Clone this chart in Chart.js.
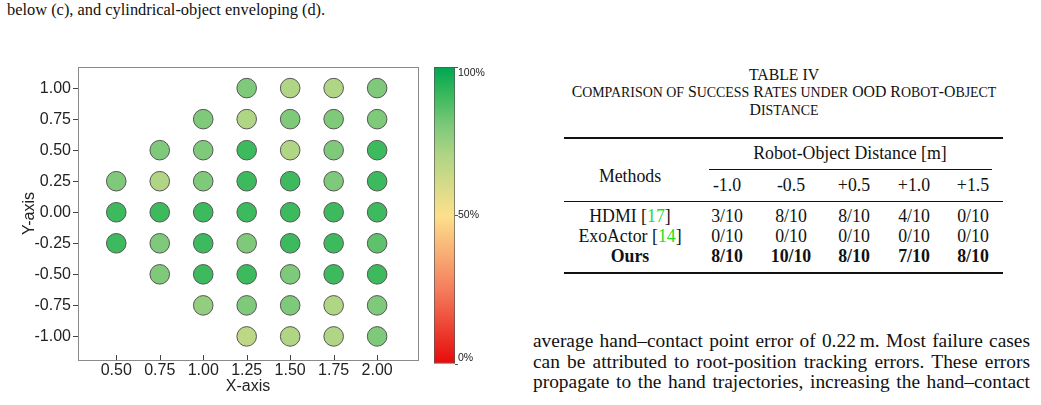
<!DOCTYPE html>
<html>
<head>
<meta charset="utf-8">
<script src="https://cdn.jsdelivr.net/npm/chart.js@4.4.1/dist/chart.umd.min.js"></script>
<style>
html,body{margin:0;padding:0;background:#fff;}
body{width:1041px;height:405px;position:relative;overflow:hidden;font-family:"Liberation Serif","Times New Roman",serif;color:#111;}
canvas{position:absolute;}
.t{position:absolute;white-space:nowrap;line-height:1;}
.c{text-align:center;width:200px;}
.sc{font-size:0.88em;text-transform:uppercase;}
.rule{position:absolute;background:#111;}
.cite{color:#22dd22;}
.para{position:absolute;left:533px;width:497px;font-size:19.4px;line-height:1;text-align:justify;text-align-last:justify;}
b{font-weight:bold;}
</style>
</head>
<body>
<div class="t" style="left:7px;top:1.5px;font-size:16.4px;">below (c), and cylindrical-object enveloping (d).</div>

<canvas id="scatter" width="430" height="405" style="left:0;top:0;"></canvas>
<canvas id="cbar" width="100" height="405" style="left:420px;top:0;"></canvas>

<!-- table -->
<div class="t c" style="left:684px;top:67px;font-size:15.8px;">TABLE IV</div>
<div class="t c" style="left:534px;top:84px;font-size:15.8px;width:500px;">C<span class="sc">omparison of</span> S<span class="sc">uccess</span> R<span class="sc">ates under</span> OOD R<span class="sc">obot</span>-O<span class="sc">bject</span></div>
<div class="t c" style="left:684px;top:102px;font-size:15.8px;">D<span class="sc">istance</span></div>
<div class="rule" style="left:564px;top:137px;width:439px;height:2px;"></div>
<div class="rule" style="left:709px;top:169px;width:283px;height:1px;"></div>
<div class="rule" style="left:564px;top:201px;width:439px;height:1px;"></div>
<div class="rule" style="left:564px;top:272px;width:439px;height:2px;"></div>
<div id="tbl"></div>

<div class="para" style="top:330.5px;">average hand–contact point error of 0.22&#8201;m. Most failure cases</div>
<div class="para" style="top:351.5px;">can be attributed to root-position tracking errors. These errors</div>
<div class="para" style="top:372px;">propagate to the hand trajectories, increasing the hand–contact</div>

<script>
// grid of test positions
const xPositions = [0.50, 0.75, 1.00, 1.25, 1.50, 1.75, 2.00];
const yPositions = [1.00, 0.75, 0.50, 0.25, 0.00, -0.25, -0.50, -0.75, -1.00];
// success rate per row (top to bottom), null = not tested
const rateRow1 = [null, null, null, 0.80, 0.70, 0.70, 0.80];
const rateRow2 = [null, null, 0.80, 0.70, 0.80, 0.80, 0.80];
const rateRow3 = [null, 0.80, 0.80, 0.90, 0.70, 0.80, 0.90];
const rateRow4 = [0.80, 0.70, 0.80, 0.90, 0.90, 0.80, 0.90];
const rateRow5 = [0.90, 0.90, 0.90, 0.90, 0.90, 0.90, 0.90];
const rateRow6 = [0.90, 0.80, 0.90, 0.80, 0.90, 0.90, 0.85];
const rateRow7 = [null, 0.80, 0.90, 0.90, 0.80, 0.90, 0.90];
const rateRow8 = [null, null, 0.76, 0.80, 0.80, 0.70, 0.80];
const rateRow9 = [null, null, null, 0.67, 0.70, 0.70, 0.80];
const rateRows = [rateRow1, rateRow2, rateRow3, rateRow4, rateRow5, rateRow6, rateRow7, rateRow8, rateRow9];

const xTicks = [0.50, 0.75, 1.00, 1.25, 1.50, 1.75, 2.00];
const yTicks = [-1.00, -0.75, -0.50, -0.25, 0.00, 0.25, 0.50, 0.75, 1.00];
const cbarTicks = [0, 50, 100];

// table data
const distHeaders = ['-1.0', '-0.5', '+0.5', '+1.0', '+1.5'];
const hdmiRow = ['3/10', '8/10', '8/10', '4/10', '0/10'];
const exoRow = ['0/10', '0/10', '0/10', '0/10', '0/10'];
const oursRow = ['8/10', '10/10', '8/10', '7/10', '8/10'];

// colour map (red - yellow - green)
const cmapStops = [0, 0.25, 0.5, 0.7, 0.8, 0.9, 1];
const cmapColors = ['#e60a0a', '#f47d5d', '#fde08c', '#b0d585', '#7fc97a', '#3dba5e', '#00a651'];

function hexToRgb(h) {
  return [parseInt(h.substr(1,2),16), parseInt(h.substr(3,2),16), parseInt(h.substr(5,2),16)];
}
function rateColor(v) {
  for (let i = 1; i < cmapStops.length; i++) {
    if (v <= cmapStops[i]) {
      let t = (v - cmapStops[i-1]) / (cmapStops[i] - cmapStops[i-1]);
      let a = hexToRgb(cmapColors[i-1]), b = hexToRgb(cmapColors[i]);
      let c = a.map((x, k) => Math.round(x + (b[k]-x)*t));
      return 'rgb(' + c.join(',') + ')';
    }
  }
  return cmapColors[cmapColors.length-1];
}

let points = [];
rateRows.forEach((row, i) => {
  row.forEach((r, j) => {
    if (r !== null) points.push({x: xPositions[j], y: yPositions[i], rate: r});
  });
});

const sans = '"Liberation Sans", Arial, sans-serif';

// frame round the plot + inward x ticks
const framePlugin = {
  id: 'frame',
  beforeDatasetsDraw(chart) {
    const {ctx, chartArea: a, scales} = chart;
    ctx.save();
    ctx.strokeStyle = '#8a8a8a';
    ctx.lineWidth = 1;
    ctx.strokeRect(a.left + 0.5, a.top + 0.5, a.right - a.left, a.bottom - a.top);
    ctx.strokeStyle = '#444';
    xTicks.forEach(v => {
      let px = Math.round(scales.x.getPixelForValue(v)) + 0.5;
      ctx.beginPath();
      ctx.moveTo(px, a.bottom);
      ctx.lineTo(px, a.bottom - 5);
      ctx.stroke();
    });
    ctx.restore();
  }
};

new Chart(document.getElementById('scatter'), {
  type: 'scatter',
  data: {
    datasets: [{
      data: points,
      pointRadius: 9.8,
      pointHoverRadius: 9.8,
      pointBorderWidth: 1,
      pointBorderColor: '#555',
      pointBackgroundColor: ctx => rateColor(ctx.raw ? ctx.raw.rate : 1)
    }]
  },
  options: {
    responsive: false,
    devicePixelRatio: 1,
    animation: false,
    layout: {padding: {left: 0, right: 12, top: 67, bottom: 0}},
    plugins: {legend: {display: false}, tooltip: {enabled: false}},
    scales: {
      x: {
        type: 'linear',
        min: 0.28, max: 2.235,
        afterBuildTicks: s => { s.ticks = xTicks.map(v => ({value: v})); },
        afterFit: s => { s.height = 45; },
        border: {display: false},
        grid: {display: true, drawOnChartArea: false, drawTicks: false},
        ticks: {font: {family: sans, size: 16}, color: '#222', padding: 1,
          maxRotation: 0, callback: v => v.toFixed(2)},
        title: {display: true, text: 'X-axis', font: {family: sans, size: 16}, color: '#222',
          padding: {top: 0, bottom: 9}}
      },
      y: {
        type: 'linear',
        min: -1.19, max: 1.17,
        afterBuildTicks: s => { s.ticks = yTicks.map(v => ({value: v})); },
        afterFit: s => { s.width = 78; },
        border: {display: false},
        grid: {display: true, drawOnChartArea: false, drawTicks: true, tickLength: 5, color: '#444'},
        ticks: {font: {family: sans, size: 16}, color: '#222', padding: 2,
          callback: v => v.toFixed(2)},
        title: {display: true, text: 'Y-axis', font: {family: sans, size: 16}, color: '#222',
          padding: {top: 20, bottom: 0}}
      }
    }
  },
  plugins: [framePlugin]
});

// colour bar
new Chart(document.getElementById('cbar'), {
  type: 'bar',
  data: {
    labels: [''],
    datasets: [{
      data: [100],
      barPercentage: 1,
      categoryPercentage: 1,
      borderColor: '#555',
      borderWidth: 1,
      borderSkipped: false,
      backgroundColor: ctx => {
        const a = ctx.chart.chartArea;
        if (!a) return '#fde08c';
        const g = ctx.chart.ctx.createLinearGradient(0, a.bottom, 0, a.top);
        cmapStops.forEach((s, i) => g.addColorStop(s, cmapColors[i]));
        return g;
      }
    }]
  },
  options: {
    responsive: false,
    devicePixelRatio: 1,
    animation: false,
    layout: {padding: {left: 14, right: 0, top: 67, bottom: 41}},
    plugins: {legend: {display: false}, tooltip: {enabled: false}},
    scales: {
      x: {display: false},
      y: {
        position: 'right',
        min: 0, max: 100,
        afterBuildTicks: s => { s.ticks = cbarTicks.map(v => ({value: v})); },
        afterFit: s => { s.width = 65; },
        border: {display: false},
        grid: {drawOnChartArea: false, tickLength: 3, color: '#555'},
        // end labels sit inside the bar's span
        ticks: {font: {family: sans, size: 10.5}, color: '#222', padding: 0,
          callback: v => v === 100 ? ['', '100%'] : (v === 0 ? ['0%', ''] : v + '%')}
      }
    }
  }
});

// table body
const tbl = document.getElementById('tbl');
const colCenters = [727, 791, 854, 914, 973];
function cell(txt, cx, top, bold) {
  let d = document.createElement('div');
  d.className = 't c';
  d.style.left = (cx - 100) + 'px';
  d.style.top = top + 'px';
  d.style.fontSize = '17.8px';
  d.innerHTML = bold ? '<b>' + txt + '</b>' : txt;
  tbl.appendChild(d);
}
cell('Robot-Object Distance [m]', 850, 145.1);
cell('Methods', 630, 168.1);
distHeaders.forEach((h, i) => cell(h, colCenters[i], 177.1));
cell('HDMI [<span class="cite">17</span>]', 630, 208.1);
cell('ExoActor [<span class="cite">14</span>]', 630, 228.1);
cell('Ours', 630, 248.1, true);
hdmiRow.forEach((v, i) => cell(v, colCenters[i], 208.1));
exoRow.forEach((v, i) => cell(v, colCenters[i], 228.1));
oursRow.forEach((v, i) => cell(v, colCenters[i], 248.1, true));
</script>
</body>
</html>
